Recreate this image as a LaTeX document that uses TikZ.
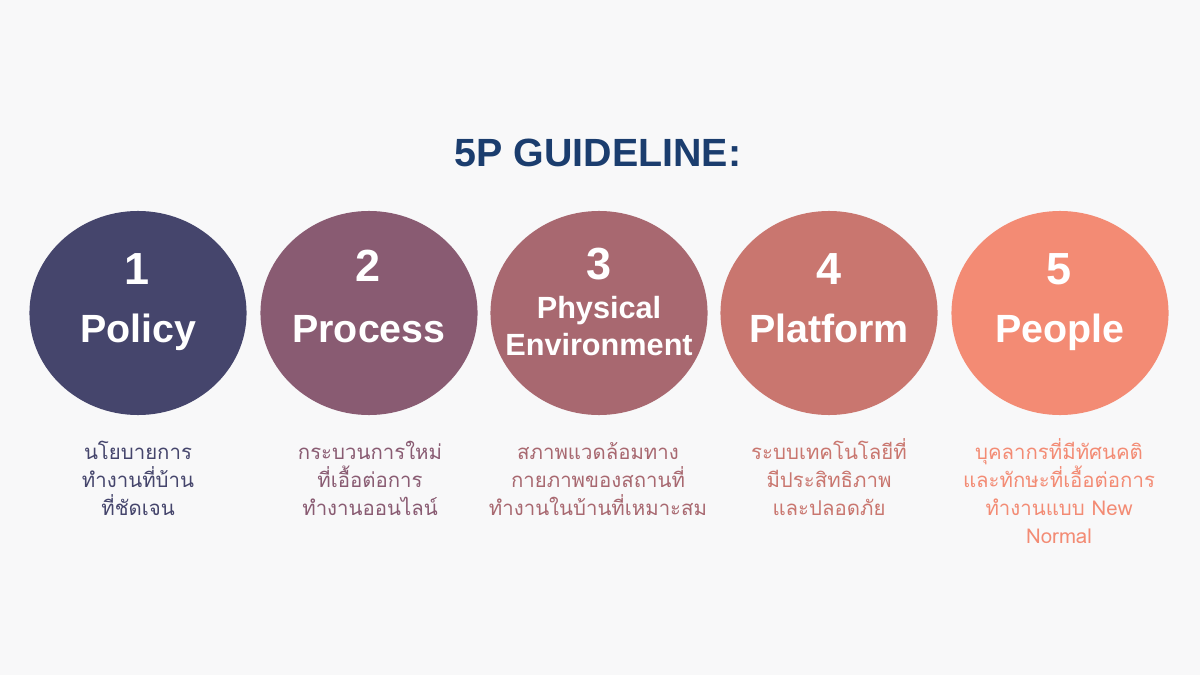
\documentclass[tikz,border=0pt]{standalone}
\usepackage{fontspec}
\setmainfont{Liberation Sans}
\newfontfamily\thaifont[Script=Thai]{Loma}
\usetikzlibrary{shapes.geometric}
\definecolor{bg}{HTML}{F8F8F9}
\definecolor{ttl}{HTML}{1B3D6E}
\definecolor{cA}{HTML}{45456C}
\definecolor{cB}{HTML}{895B72}
\definecolor{cC}{HTML}{A86870}
\definecolor{cD}{HTML}{C9766F}
\definecolor{cE}{HTML}{F38B74}
\tikzset{
  disc/.style={ellipse, inner sep=0pt, minimum width=154.4pt, minimum height=145.1pt, fill=#1},
  num/.style={text=white, font=\fontsize{32}{32}\selectfont\bfseries, anchor=base, inner sep=0pt},
  lbl/.style={text=white, font=\fontsize{28}{28}\selectfont\bfseries, anchor=base, inner sep=0pt},
  lblsm/.style={text=white, font=\fontsize{21.8}{26}\selectfont\bfseries, anchor=base, inner sep=0pt},
  desc/.style={text=#1, font=\thaifont\fontsize{14.5}{19.9}\selectfont, align=center, anchor=base, inner sep=0pt},
}
\begin{document}
\begin{tikzpicture}[x=0.025cm,y=-0.025cm]
\fill[bg] (0,0) rectangle (1200,675);
\useasboundingbox (0,0) rectangle (1200,675);
\node[text=ttl, font=\fontsize{28}{28}\selectfont\bfseries, anchor=base, inner sep=0pt] (title) at (598,167) {5P GUIDELINE:};

\node[disc=cA] (c1) at (138,313) {};
\node[disc=cB] (c2) at (369,313) {};
\node[disc=cC] (c3) at (599,313) {};
\node[disc=cD] (c4) at (829,313) {};
\node[disc=cE] (c5) at (1060,313) {};

\node[num] (n1) at (137,284) {1};
\node[lbl] (l1) at (138,342) {Policy};
\node[num] (n2) at (368,281) {2};
\node[lbl] (l2) at (369,342) {Process};
\node[num] (n3) at (599,279) {3};
\node[lblsm] (l3a) at (599,318) {Physical};
\node[lblsm] (l3b) at (599,355) {Environment};
\node[num] (n4) at (829,284) {4};
\node[lbl] (l4) at (829,342) {Platform};
\node[num] (n5) at (1059,284) {5};
\node[lbl] (l5) at (1060,342) {People};

\node[desc=cA] (d1) at (138,515) {นโยบายการ\\ทำงานที่บ้าน\\ที่ชัดเจน};
\node[desc=cB] (d2) at (370,515) {กระบวนการใหม่\\ที่เอื้อต่อการ\\ทำงานออนไลน์};
\node[desc=cC] (d3) at (598,515) {สภาพแวดล้อมทาง\\กายภาพของสถานที่\\ทำงานในบ้านที่เหมาะสม};
\node[desc=cD] (d4) at (829,515) {ระบบเทคโนโลยีที่\\มีประสิทธิภาพ\\และปลอดภัย};
\node[desc=cE] (d5) at (1059,543) {บุคลากรที่มีทัศนคติ\\และทักษะที่เอื้อต่อการ\\ทำงานแบบ New\\Normal};
\end{tikzpicture}
\end{document}
